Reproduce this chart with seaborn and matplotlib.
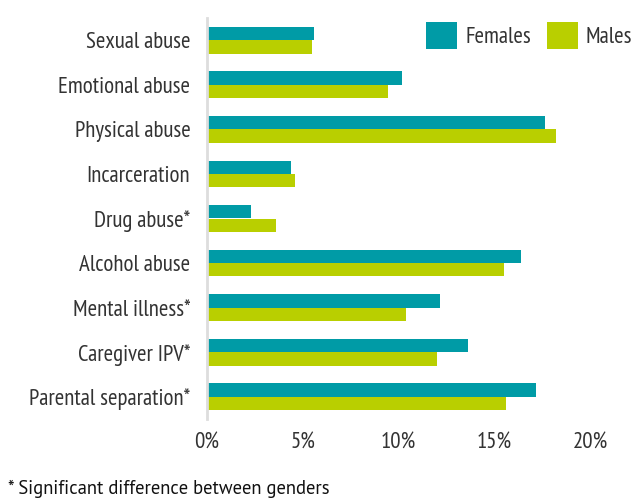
import pandas as pd
import matplotlib
matplotlib.use('Agg')
import matplotlib.pyplot as plt
import seaborn as sns

categories = ['Sexual abuse', 'Emotional abuse', 'Physical abuse', 'Incarceration',
              'Drug abuse*', 'Alcohol abuse', 'Mental illness*', 'Caregiver IPV*',
              'Parental separation*']
females = [5.6, 10.2, 17.65, 4.4, 2.3, 16.4, 12.15, 13.65, 17.2]
males = [5.5, 9.45, 18.2, 4.6, 3.6, 15.5, 10.4, 12.0, 15.6]
xticks = [0, 5, 10, 15, 20]
xtick_labels = ['0%', '5%', '10%', '15%', '20%']

# long format for seaborn
df = pd.DataFrame({
    'Category': categories * 2,
    'Value': females + males,
    'Gender': ['Females'] * len(categories) + ['Males'] * len(categories),
})

sns.set_style('white')
plt.rcParams['font.family'] = ['PT Sans Narrow', 'DejaVu Sans']

fig = plt.figure(figsize=(6.34, 5.01), dpi=100)
ax = fig.add_axes([207 / 634, 1 - 419 / 501, (590 - 207) / 634, (419 - 18) / 501])

sns.barplot(data=df, y='Category', x='Value', hue='Gender', order=categories,
            palette={'Females': '#009ba6', 'Males': '#b9cf00'},
            width=0.6, orient='h', ax=ax, saturation=1, linewidth=0)

ax.set_xlim(0, 20)
ax.set_xticks(xticks)
ax.set_xticklabels(xtick_labels)
ax.set_xlabel('')
ax.set_ylabel('')
ax.tick_params(axis='both', length=0, labelsize=16.5, colors='#333333')
ax.tick_params(axis='y', pad=12)
ax.tick_params(axis='x', pad=9)
for s in ['top', 'right', 'bottom']:
    ax.spines[s].set_visible(False)
ax.spines['left'].set_color('#dddddd')
ax.spines['left'].set_linewidth(2)

ax.legend(title=None, frameon=False, fontsize=16.5, loc='upper right',
          bbox_to_anchor=(653 / 634, 1 - 1 / 501), bbox_transform=fig.transFigure,
          ncol=2, handlelength=1.35, handleheight=1.45, handletextpad=0.35,
          columnspacing=0.7, labelcolor='#333333')

fig.text(0.012, 1 - 489 / 501, '* Significant difference between genders',
         fontsize=13.4, color='#111111', va='center', family=['PT Sans', 'DejaVu Sans'])

fig.savefig('out.png', dpi=100)
